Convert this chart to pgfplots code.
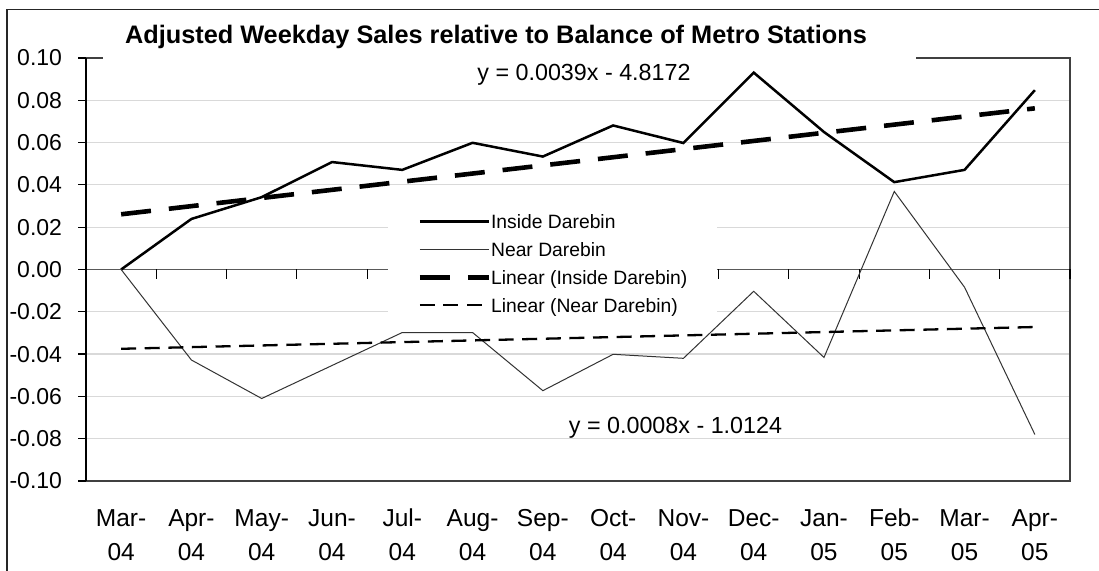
\documentclass[border=0pt]{standalone}
\usepackage{pgfplots}
\pgfplotsset{compat=1.18}
\usepackage{fontspec}
\setmainfont{Liberation Sans}
\definecolor{gridc}{HTML}{D9D9D9}
\definecolor{bordc}{HTML}{404040}
\definecolor{nearc}{HTML}{333333}
\definecolor{zeroc}{HTML}{595959}

\begin{document}
\begin{tikzpicture}
\useasboundingbox (0pt,0pt) rectangle (549.5pt,285.5pt);
\fill[white] (0pt,0pt) rectangle (549.5pt,285.5pt);
\draw[black!85, line width=0.7pt] (3.5pt,0pt) -- (3.5pt,280.75pt) -- (549.5pt,280.75pt);
\begin{axis}[
  at={(43pt,45pt)}, anchor=south west,
  width=492pt, height=211.5pt, scale only axis,
  xmin=-0.5, xmax=13.5, ymin=-0.1, ymax=0.1,
  clip=false,
  axis line style={draw=none},
  major tick length=0pt,
  xtick={0,1,2,3,4,5,6,7,8,9,10,11,12,13},
  xticklabels={{Mar-\\04},{Apr-\\04},{May-\\04},{Jun-\\04},{Jul-\\04},{Aug-\\04},{Sep-\\04},{Oct-\\04},{Nov-\\04},{Dec-\\04},{Jan-\\05},{Feb-\\05},{Mar-\\05},{Apr-\\05}},
  ytick={-0.1,-0.08,-0.06,-0.04,-0.02,0,0.02,0.04,0.06,0.08,0.1},
  yticklabels={-0.10,-0.08,-0.06,-0.04,-0.02,0.00,0.02,0.04,0.06,0.08,0.10},
  xticklabel style={font=\fontsize{12.25}{17}\selectfont, align=center, anchor=north, inner sep=0pt, text height=9.2pt, yshift=-30.3pt},
  yticklabel style={font=\fontsize{11.5}{13}\selectfont, anchor=east, inner sep=0pt, xshift=-11.8pt},
  legend style={at={(0.306,0.648)}, anchor=north west, draw=none, fill=white,
    inner xsep=15pt, inner ysep=0pt, row sep=0pt,
    font=\fontsize{9.65}{11}\selectfont,
    nodes={inner sep=0pt, text height=10.45pt, text depth=3.55pt}},
  legend cell align=left,
  legend image code/.code={\draw[#1] (0pt,0pt) -- (34.5pt,0pt);},
]
% gridlines
\pgfplotsinvokeforeach{-0.08,-0.06,-0.04,-0.02,0.02,0.04,0.06,0.08}{
  \draw[gridc, line width=0.6pt] (axis cs:-0.5,#1) -- (axis cs:13.5,#1);
}
% plot area border
\draw[bordc, line width=0.6pt] (rel axis cs:0,0) -- (rel axis cs:1,0) -- (rel axis cs:1,1) -- (rel axis cs:0.844,1);
\draw[bordc, line width=0.6pt] (rel axis cs:0,1) -- (rel axis cs:0.017,1);
% category axis at zero
\draw[zeroc, line width=0.7pt] (axis cs:-0.5,0) -- (axis cs:13.5,0);
\pgfplotsinvokeforeach{0.5,1.5,2.5,3.5,4.5,5.5,6.5,7.5,8.5,9.5,10.5,11.5,12.5,13.5}{
  \draw[black, line width=0.6pt] (axis cs:#1,0) -- ++(0pt,-5pt);
}
% value axis
\draw[black, line width=0.8pt] (rel axis cs:0,0) -- (rel axis cs:0,1);
\pgfplotsinvokeforeach{-0.1,-0.08,-0.06,-0.04,-0.02,0,0.02,0.04,0.06,0.08,0.1}{
  \draw[black, line width=0.6pt] (axis cs:-0.5,#1) -- ++(-4pt,0pt);
}

\addplot[black, line width=1.25pt] coordinates {
 (0,0.000) (1,0.0239) (2,0.0342) (3,0.0508) (4,0.0471) (5,0.0599) (6,0.0534)
 (7,0.0681) (8,0.0598) (9,0.0931) (10,0.0650) (11,0.0413) (12,0.0471) (13,0.0848)};
\addlegendentry{Inside Darebin}
\addplot[nearc, line width=0.5pt] coordinates {
 (0,0.000) (1,-0.0428) (2,-0.0610) (3,-0.0454) (4,-0.0298) (5,-0.0298) (6,-0.0573)
 (7,-0.0401) (8,-0.0420) (9,-0.0103) (10,-0.0416) (11,0.0369) (12,-0.0084) (13,-0.0780)};
\addlegendentry{Near Darebin}
\addplot[black, line width=2.3pt, dash pattern=on 15pt off 9pt] coordinates {(0,0.0261) (13,0.0762)};
\addlegendentry{Linear (Inside Darebin)}
\addplot[black, line width=1.15pt, dash pattern=on 7.5pt off 4.3pt] coordinates {(0,-0.0375) (13,-0.0272)};
\addlegendentry{Linear (Near Darebin)}
\end{axis}
\node[anchor=base, font=\fontsize{12.65}{15}\selectfont\bfseries] at (248pt,263.5pt) {Adjusted Weekday Sales relative to Balance of Metro Stations};
\node[anchor=base, font=\fontsize{11.65}{14}\selectfont] at (292pt,245.15pt) {y = 0.0039x - 4.8172};
\node[anchor=base, font=\fontsize{11.65}{14}\selectfont] at (337.75pt,68.85pt) {y = 0.0008x - 1.0124};
\end{tikzpicture}
\end{document}
